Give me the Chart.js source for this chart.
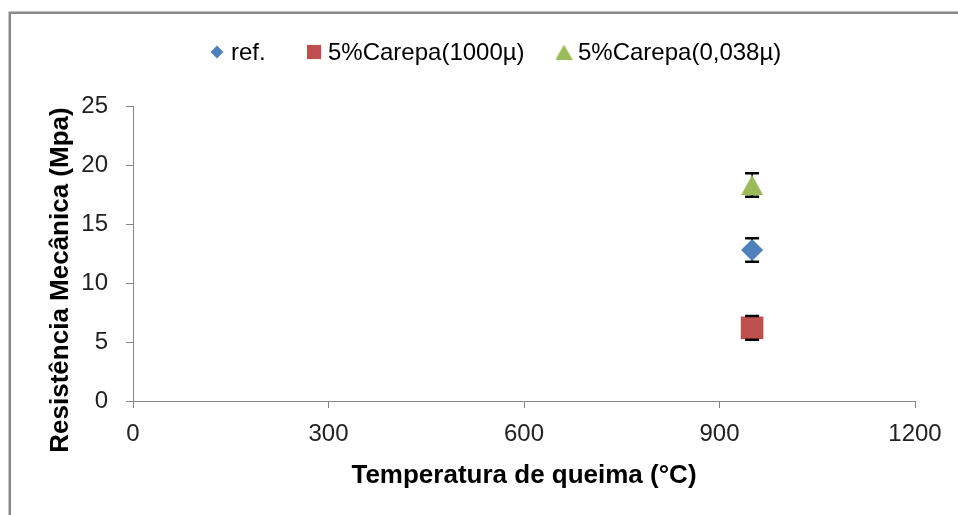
<!DOCTYPE html>
<html>
<head>
<meta charset="utf-8">
<script src="https://cdn.jsdelivr.net/npm/chart.js@4.4.1/dist/chart.umd.min.js"></script>
<style>
  html, body { margin: 0; padding: 0; background: #fff; }
  canvas { display: block; }
</style>
</head>
<body>
<canvas id="chart" width="958" height="515"></canvas>
<script>
// ---------------- Data ----------------
const seriesNames = ["ref.", "5%Carepa(1000µ)", "5%Carepa(0,038µ)"];
const burnTemps = [950, 950, 950];
const strengthMpa = [12.8, 6.2, 18.3];
const strengthErr = [1.0, 1.0, 1.0];
const xTicks = [0, 300, 600, 900, 1200];
const yTicks = [0, 5, 10, 15, 20, 25];
const xTitle = "Temperatura de queima (°C)";
const yTitle = "Resistência Mecânica (Mpa)";

// ---------------- Styles ----------------
const colors = ["#4F81BD", "#C0504D", "#9BBB59"];
const axisGrey = "#868686";
const tickFont = { family: "'Liberation Sans', Arial, sans-serif", size: 24 };

function triangleMarker(w, h, color) {
  const c = document.createElement("canvas");
  c.width = w; c.height = h;
  const g = c.getContext("2d");
  g.fillStyle = color;
  g.beginPath();
  g.moveTo(w / 2, 0);
  g.lineTo(w, h);
  g.lineTo(0, h);
  g.closePath();
  g.fill();
  return c;
}

const pointStyles = ["rectRot", "rect", triangleMarker(22, 20, colors[2])];
const pointRadii = [11, 16, 11];
const legendStyles = ["rectRot", "rect", triangleMarker(17, 15, colors[2])];
const legendRadii = [6.5, 10, 8];
const legendX = [217, 314, 564];

// ---------------- Plugins ----------------
const frame = {
  id: "frame",
  beforeDraw(chart) {
    const ctx = chart.ctx;
    ctx.save();
    ctx.strokeStyle = "#8a8a8a";
    ctx.lineWidth = 2.5;
    ctx.beginPath();
    ctx.moveTo(9.75, 520);
    ctx.lineTo(9.75, 12.75);
    ctx.lineTo(960, 12.75);
    ctx.stroke();
    ctx.restore();
  }
};

function errorGeometry(chart, i) {
  const xs = chart.scales.x, ys = chart.scales.y;
  return {
    x: xs.getPixelForValue(burnTemps[i]),
    top: ys.getPixelForValue(strengthMpa[i] + strengthErr[i]),
    bottom: ys.getPixelForValue(strengthMpa[i] - strengthErr[i])
  };
}

const errorBars = {
  id: "errorBars",
  beforeDatasetsDraw(chart) {
    const ctx = chart.ctx;
    ctx.save();
    ctx.strokeStyle = "#000";
    ctx.lineWidth = 1.5;
    strengthMpa.forEach((v, i) => {
      const e = errorGeometry(chart, i);
      ctx.beginPath();
      ctx.moveTo(e.x, e.top);
      ctx.lineTo(e.x, e.bottom);
      ctx.stroke();
    });
    ctx.restore();
  },
  afterDatasetsDraw(chart) {
    const ctx = chart.ctx;
    ctx.save();
    ctx.strokeStyle = "#000";
    ctx.lineWidth = 2.5;
    strengthMpa.forEach((v, i) => {
      const e = errorGeometry(chart, i);
      ctx.beginPath();
      ctx.moveTo(e.x - 7, e.top);
      ctx.lineTo(e.x + 7, e.top);
      ctx.moveTo(e.x - 7, e.bottom);
      ctx.lineTo(e.x + 7, e.bottom);
      ctx.stroke();
    });
    ctx.restore();
  }
};

const labels = {
  id: "labels",
  afterDraw(chart) {
    const ctx = chart.ctx;
    const area = chart.chartArea;
    ctx.save();

    // legend
    ctx.font = "24px 'Liberation Sans', Arial, sans-serif";
    ctx.textBaseline = "middle";
    ctx.textAlign = "left";
    seriesNames.forEach((name, i) => {
      ctx.fillStyle = colors[i];
      ctx.strokeStyle = colors[i];
      Chart.helpers.drawPoint(ctx, {
        pointStyle: legendStyles[i], radius: legendRadii[i], rotation: 0, borderWidth: 0
      }, legendX[i], 52);
      ctx.fillStyle = "#000";
      ctx.fillText(name, legendX[i] + 14, 53);
    });

    // axis titles
    ctx.font = "bold 26px 'Liberation Sans', Arial, sans-serif";
    ctx.textAlign = "center";
    ctx.fillStyle = "#000";
    ctx.fillText(xTitle, (area.left + area.right) / 2, 476);
    ctx.translate(61, 280);
    ctx.rotate(-Math.PI / 2);
    ctx.fillText(yTitle, 0, 0);
    ctx.restore();
  }
};

// ---------------- Chart ----------------
new Chart(document.getElementById("chart"), {
  type: "scatter",
  data: {
    datasets: seriesNames.map((name, i) => ({
      label: name,
      data: [{ x: burnTemps[i], y: strengthMpa[i] }],
      pointStyle: pointStyles[i],
      pointRadius: pointRadii[i],
      backgroundColor: colors[i],
      borderColor: colors[i],
      borderWidth: 0
    }))
  },
  options: {
    responsive: false,
    animation: false,
    events: [],
    layout: { padding: { top: 106, right: 43, bottom: 0, left: 0 } },
    plugins: {
      legend: { display: false },
      tooltip: { enabled: false }
    },
    scales: {
      x: {
        type: "linear",
        min: xTicks[0],
        max: xTicks[xTicks.length - 1],
        afterBuildTicks: s => { s.ticks = xTicks.map(v => ({ value: v })); },
        afterFit: s => { s.height = 114; },
        ticks: { font: tickFont, color: "#222", padding: 12, maxRotation: 0, callback: v => String(v) },
        grid: { drawOnChartArea: false, tickLength: 7, color: axisGrey },
        border: { color: axisGrey }
      },
      y: {
        min: yTicks[0],
        max: yTicks[yTicks.length - 1],
        afterBuildTicks: s => { s.ticks = yTicks.map(v => ({ value: v })); },
        afterFit: s => { s.width = 133; },
        ticks: { font: tickFont, color: "#222", padding: 18, callback: v => String(v) },
        grid: { drawOnChartArea: false, tickLength: 7, color: axisGrey },
        border: { color: axisGrey }
      }
    }
  },
  plugins: [frame, errorBars, labels]
});
</script>
</body>
</html>
